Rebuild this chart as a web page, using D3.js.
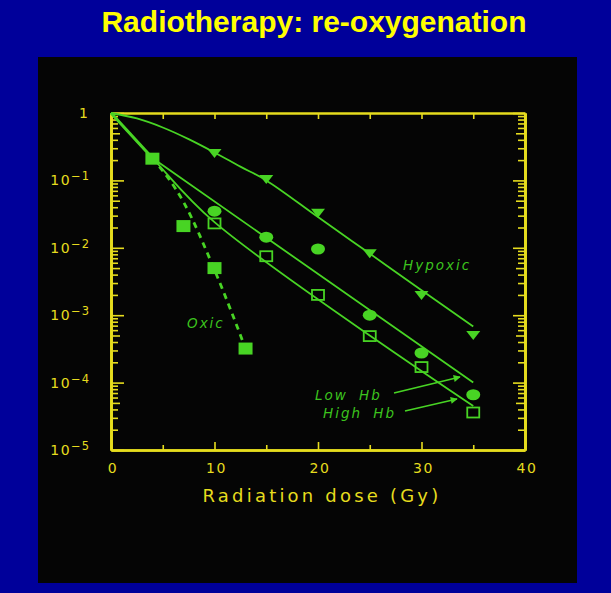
<!DOCTYPE html>
<html>
<head>
<meta charset="utf-8">
<script src="https://d3js.org/d3.v7.min.js"></script>
<style>
  html, body { margin: 0; padding: 0; background: #00009a; }
  svg { display: block; }
</style>
</head>
<body>
<div class="canvas"></div>
<script>
/**
 * Data
 */
const xTicks = [0, 10, 20, 30, 40]
const yDecades = [1, 1e-1, 1e-2, 1e-3, 1e-4, 1e-5]

// measured points: [dose Gy, surviving fraction]
const hypoxicPts = [[10, 0.255], [15, 0.105], [20, 0.033], [25, 0.0083], [30, 0.002], [35, 0.00051]]
const lowHbPts = [[10, 0.035], [15, 0.0144], [20, 0.0096], [25, 0.001], [30, 0.000275], [35, 0.000066]]
const highHbPts = [[10, 0.023], [15, 0.0075], [20, 0.002], [25, 0.00049], [30, 0.00017], [35, 0.000036]]
const oxicPts = [[4, 0.21], [7, 0.021], [10, 0.005], [13, 0.00032]]

// fitted curves as drawn
const hypoxicFit = [[0, 1], [2.5, 0.83], [5, 0.61], [7.5, 0.41], [10, 0.26], [12.5, 0.16], [15, 0.1], [20, 0.0286], [25, 0.0082], [30, 0.00235], [35, 0.00068]]
const lowHbFit = [[0, 1], [4, 0.215], [35, 0.0001]]
const highHbFit = [[0, 1], [4, 0.215], [10, 0.024], [35, 0.000045]]
const oxicFit = [[0, 1], [4, 0.215], [7, 0.048], [10, 0.0047], [13, 0.00032]]

/**
 * Dimensions
 */
const dims = { width: 611, height: 593 }
const plot = { left: 111, right: 525, top: 113, bottom: 450 }
const yellow = "#e6dc1e"
const green = "#48d424"

const svg = d3.select(".canvas")
    .append("svg")
    .attr("width", dims.width)
    .attr("height", dims.height)

// title
svg.append("text")
    .attr("x", 314)
    .attr("y", 32)
    .attr("text-anchor", "middle")
    .attr("fill", "#ffff00")
    .attr("font-family", "Liberation Sans, Arial, sans-serif")
    .attr("font-weight", "bold")
    .attr("font-size", 30)
    .text("Radiotherapy: re-oxygenation")

// black photo panel
svg.append("rect")
    .attr("x", 38)
    .attr("y", 57)
    .attr("width", 539)
    .attr("height", 526)
    .attr("fill", "#050505")

/**
 * Scales
 */
const x = d3.scaleLinear().domain([0, 40]).range([plot.left, plot.right])
const y = d3.scaleLog().domain([1e-5, 1]).range([plot.bottom, plot.top])

// minor log ticks split by length
const minors = [], fives = []
yDecades.slice(1).forEach(d => {
    for (let k = 2; k <= 9; k++) (k === 5 ? fives : minors).push(d * k)
})

const axisStyle = g => {
    g.selectAll("path, line").attr("stroke", yellow)
    g.select(".domain").attr("stroke-width", 2.5)
    g.selectAll(".tick line").attr("stroke-width", 1.6)
    g.selectAll("text").remove()
}

/**
 * Axes (ticks point inward)
 */
const addAxis = (axis, transform) => svg.append("g")
    .attr("transform", transform)
    .call(axis)
    .call(axisStyle)

// left
addAxis(d3.axisLeft(y).tickValues(minors).tickSize(-7).tickSizeOuter(0), `translate(${plot.left},0)`)
addAxis(d3.axisLeft(y).tickValues(fives).tickSize(-9).tickSizeOuter(0), `translate(${plot.left},0)`)
addAxis(d3.axisLeft(y).tickValues(yDecades).tickSize(-13).tickSizeOuter(0), `translate(${plot.left},0)`)
// right
addAxis(d3.axisRight(y).tickValues(minors).tickSize(-7).tickSizeOuter(0), `translate(${plot.right},0)`)
addAxis(d3.axisRight(y).tickValues(fives).tickSize(-9).tickSizeOuter(0), `translate(${plot.right},0)`)
addAxis(d3.axisRight(y).tickValues(yDecades).tickSize(-12).tickSizeOuter(0), `translate(${plot.right},0)`)
// bottom
addAxis(d3.axisBottom(x).tickValues([5, 15, 25, 35]).tickSize(-5).tickSizeOuter(0), `translate(0,${plot.bottom})`)
addAxis(d3.axisBottom(x).tickValues([10, 20, 30]).tickSize(-8).tickSizeOuter(0), `translate(0,${plot.bottom})`)
// top
addAxis(d3.axisTop(x).tickValues([5, 10, 15, 20, 25, 30, 35]).tickSize(-6).tickSizeOuter(0), `translate(0,${plot.top})`)

// tick labels
const labelFont = "DejaVu Sans, Verdana, sans-serif"
svg.append("g").selectAll("text")
    .data(xTicks)
    .enter()
    .append("text")
    .attr("x", d => x(d) + 2)
    .attr("y", 473)
    .attr("text-anchor", "middle")
    .attr("fill", yellow)
    .attr("font-family", labelFont)
    .attr("font-size", 14)
    .attr("letter-spacing", 1.5)
    .text(d => d)

const yLabels = svg.append("g").selectAll("text")
    .data(yDecades)
    .enter()
    .append("text")
    .attr("x", 90)
    .attr("y", d => y(d) + 5)
    .attr("text-anchor", "end")
    .attr("fill", yellow)
    .attr("font-family", labelFont)
    .attr("font-size", 14)

yLabels.each(function (d) {
    const e = Math.round(Math.log10(d))
    const t = d3.select(this)
    if (e === 0) { t.attr("x", 88).text("1"); return }
    t.append("tspan").attr("letter-spacing", 1.5).text("10")
    t.append("tspan").attr("dy", -5).attr("font-size", 11.5).attr("letter-spacing", 1).text("\u2212" + (-e))
})

svg.append("text")
    .attr("x", 322)
    .attr("y", 502)
    .attr("text-anchor", "middle")
    .attr("fill", yellow)
    .attr("font-family", labelFont)
    .attr("font-size", 18)
    .attr("letter-spacing", 3.2)
    .text("Radiation dose (Gy)")

/**
 * Curves
 */
const line = d3.line()
    .x(d => x(d[0]))
    .y(d => y(d[1]))

const curves = [
    { pts: hypoxicFit, dash: null, w: 1.8, curve: d3.curveCatmullRom.alpha(0.5) },
    { pts: lowHbFit, dash: null, w: 1.8, curve: d3.curveLinear },
    { pts: highHbFit, dash: null, w: 1.8, curve: d3.curveCatmullRom.alpha(0.5) },
    { pts: oxicFit.slice(1), dash: "6,5", w: 2.8, curve: d3.curveMonotoneX },
    { pts: oxicFit.slice(0, 2), dash: null, w: 3, curve: d3.curveLinear }
]

svg.append("g").selectAll("path")
    .data(curves)
    .enter()
    .append("path")
    .attr("fill", "none")
    .attr("stroke", green)
    .attr("stroke-width", d => d.w)
    .attr("stroke-dasharray", d => d.dash)
    .attr("d", d => line.curve(d.curve)(d.pts))

/**
 * Markers
 */
const marks = svg.append("g")

marks.selectAll(".tri")
    .data(hypoxicPts)
    .enter()
    .append("path")
    .attr("class", "tri")
    .attr("fill", green)
    .attr("transform", d => `translate(${x(d[0])},${y(d[1])})`)
    .attr("d", "M-7,-4L7,-4L0,5Z")

marks.selectAll(".dot")
    .data(lowHbPts)
    .enter()
    .append("ellipse")
    .attr("class", "dot")
    .attr("fill", green)
    .attr("cx", d => x(d[0]))
    .attr("cy", d => y(d[1]))
    .attr("rx", 7)
    .attr("ry", 5.5)

marks.selectAll(".osq")
    .data(highHbPts)
    .enter()
    .append("rect")
    .attr("class", "osq")
    .attr("fill", "none")
    .attr("stroke", green)
    .attr("stroke-width", 1.8)
    .attr("x", d => x(d[0]) - 6)
    .attr("y", d => y(d[1]) - 5)
    .attr("width", 12)
    .attr("height", 10)

marks.selectAll(".fsq")
    .data(oxicPts)
    .enter()
    .append("rect")
    .attr("class", "fsq")
    .attr("fill", green)
    .attr("x", d => x(d[0]) - 7)
    .attr("y", d => y(d[1]) - 6)
    .attr("width", 14)
    .attr("height", 12)

/**
 * Labels and arrows
 */
const labels = [
    { text: "Hypoxic", x: 403, y: 270 },
    { text: "Oxic", x: 187, y: 328 },
    { text: "Low Hb", x: 315, y: 400 },
    { text: "High Hb", x: 323, y: 418 }
]

svg.append("g").selectAll("text")
    .data(labels)
    .enter()
    .append("text")
    .attr("x", d => d.x)
    .attr("y", d => d.y)
    .attr("fill", "#3cc41e")
    .attr("font-family", labelFont)
    .attr("font-style", "italic")
    .attr("font-size", 13.5)
    .attr("letter-spacing", 2)
    .attr("word-spacing", 5)
    .text(d => d.text)

svg.append("defs").append("marker")
    .attr("id", "head")
    .attr("viewBox", "0 0 10 10")
    .attr("refX", 9)
    .attr("refY", 5)
    .attr("markerWidth", 9)
    .attr("markerHeight", 7)
    .attr("markerUnits", "userSpaceOnUse")
    .attr("orient", "auto")
    .append("path")
    .attr("d", "M0,0L10,5L0,10Z")
    .attr("fill", green)

const arrows = [
    [[394, 393], [460, 377]],
    [[405, 411], [457, 399]]
]

svg.append("g").selectAll("line")
    .data(arrows)
    .enter()
    .append("line")
    .attr("x1", d => d[0][0])
    .attr("y1", d => d[0][1])
    .attr("x2", d => d[1][0])
    .attr("y2", d => d[1][1])
    .attr("stroke", green)
    .attr("stroke-width", 1.6)
    .attr("marker-end", "url(#head)")
</script>
</body>
</html>
